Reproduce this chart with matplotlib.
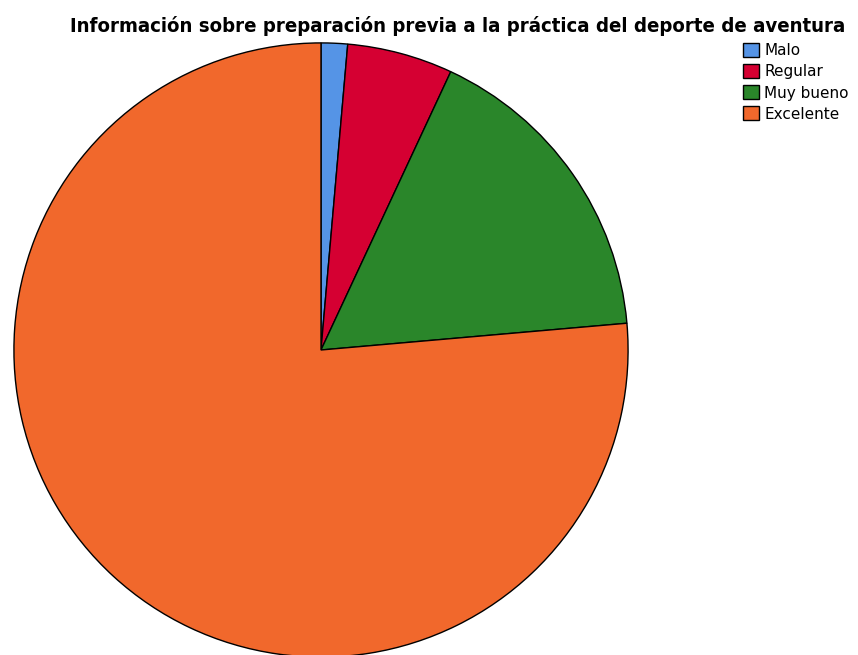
#! /usr/bin/env python3

"""
Pie chart of the prior preparation information for adventure sports.
"""

import matplotlib.pyplot as plt

CATEGORIES = ['Malo', 'Regular', 'Muy bueno', 'Excelente']
COUNTS = [1, 4, 12, 55]
COLORS = ['#5594e6', '#d50032', '#2a862a', '#f1682c']

TITLE = 'Información sobre preparación previa a la práctica del deporte de aventura'


def main() -> None:
    """Main entry-point for script"""
    fig = plt.figure(figsize=(8.58, 6.55), dpi=100)

    # square axes in pixels so the pie keeps its round shape
    ax = fig.add_axes([13 / 858, -3 / 655, 616 / 858, 616 / 655])
    wedges, _ = ax.pie(
        COUNTS,
        colors=COLORS,
        startangle=90,
        counterclock=False,
        radius=1.0,
        wedgeprops={'edgecolor': 'black', 'linewidth': 1.0},
    )
    ax.set_xlim(-1.003, 1.003)
    ax.set_ylim(-1.003, 1.003)
    ax.set_aspect('auto')
    ax.axis('off')

    fig.text(458 / 858, 1 - 26 / 655, TITLE, ha='center', va='center',
             fontsize=14.6, fontweight='bold', fontstretch='condensed')

    fig.legend(
        wedges, CATEGORIES,
        loc='upper left',
        bbox_to_anchor=(743 / 858, 1 - 43 / 655),
        frameon=False,
        fontsize=11,
        handlelength=1.05,
        handleheight=1.05,
        handletextpad=0.33,
        labelspacing=0.38,
        borderpad=0,
        borderaxespad=0,
    )

    fig.savefig('out.png', dpi=100)


if __name__ == '__main__':
    main()
